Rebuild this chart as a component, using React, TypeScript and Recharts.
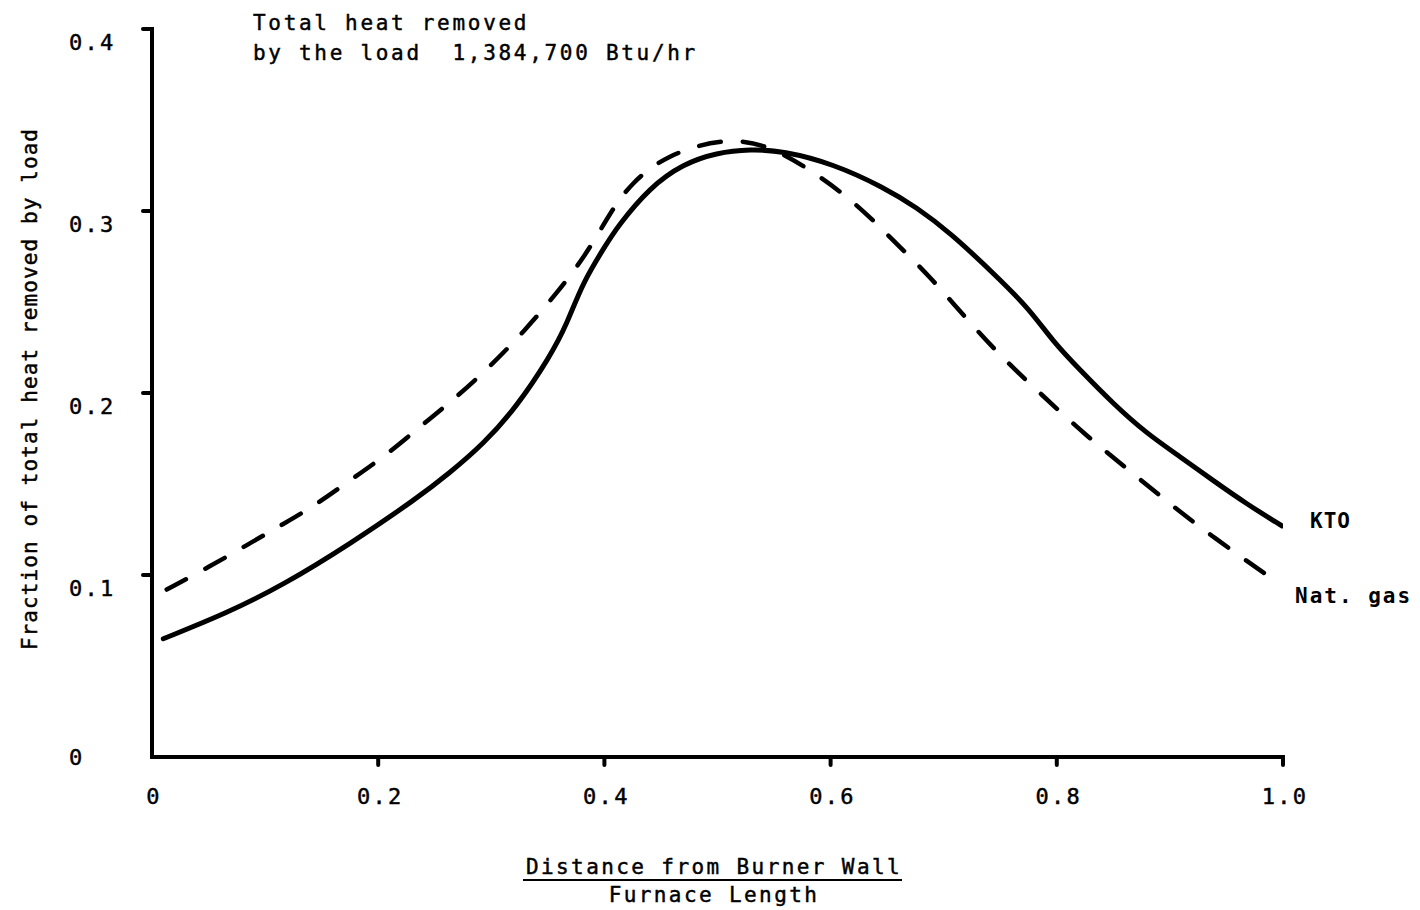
import React from 'react';
import { LineChart, Line, XAxis, YAxis, Label } from 'recharts';

// KTO (solid)
const ktoX = [0.010, 0.066, 0.116, 0.175, 0.234, 0.263, 0.293, 0.322, 0.352, 0.367, 0.381, 0.402, 0.411, 0.440, 0.470, 0.499, 0.529, 0.558, 0.602, 0.647, 0.676, 0.706, 0.747, 0.776, 0.797, 0.820, 0.850, 0.879, 0.909, 0.938, 0.968, 0.999];
const ktoY = [0.065, 0.079, 0.0945, 0.117, 0.142, 0.156, 0.172, 0.192, 0.220, 0.238, 0.261, 0.282, 0.291, 0.313, 0.326, 0.332, 0.334, 0.333, 0.326, 0.313, 0.302, 0.288, 0.264, 0.246, 0.228, 0.213, 0.194, 0.178, 0.165, 0.152, 0.139, 0.127];

// Natural gas (dashed)
const gasX = [0.013, 0.051, 0.084, 0.116, 0.146, 0.175, 0.2075, 0.238, 0.266, 0.299, 0.330, 0.356, 0.383, 0.405, 0.423, 0.455, 0.505, 0.543, 0.585, 0.623, 0.655, 0.688, 0.721, 0.754, 0.785, 0.825, 0.865, 0.903, 0.938, 0.975, 0.987];
const gasY = [0.092, 0.1046, 0.1165, 0.128, 0.139, 0.152, 0.166, 0.182, 0.196, 0.2145, 0.2346, 0.2535, 0.275, 0.299, 0.315, 0.331, 0.340, 0.337, 0.3216, 0.304, 0.284, 0.264, 0.240, 0.218, 0.200, 0.177, 0.157, 0.1375, 0.121, 0.1046, 0.0995];

const xTicks = [0, 0.2, 0.4, 0.6, 0.8, 1.0];
const xTickLabels = ['0', '0.2', '0.4', '0.6', '0.8', '1.0'];
const yTicks = [0, 0.1, 0.2, 0.3, 0.4];
const yTickLabels = ['0', '0.1', '0.2', '0.3', '0.4'];

const seriesNames = ['KTO', 'Nat. gas'];
const titleLines = ['Total heat removed', 'by the load  1,384,700 Btu/hr'];
const xLabelLines = ['Distance from Burner Wall', 'Furnace Length'];
const yLabel = 'Fraction of total heat removed by load';

const ktoData = ktoX.map((x, i) => ({ x, y: ktoY[i] }));
const gasData = gasX.map((x, i) => ({ x, y: gasY[i] }));

const FONT = '"DejaVu Sans Mono", "Liberation Mono", monospace';
const INK = { fill: '#000', stroke: '#000', strokeWidth: 0.45 };

const XTick = (props: any) => {
  const { x, y, payload } = props;
  const i = xTicks.indexOf(payload.value);
  return (
    <g>
      {payload.value > 0 && (
        <line x1={x} x2={x} y1={y} y2={y + 8} stroke="#000" strokeWidth={4} strokeLinecap="round" />
      )}
      <text x={x + 2} y={y + 47} textAnchor="middle" fontFamily={FONT} fontSize={22} letterSpacing={2.3} {...INK}>
        {i >= 0 ? xTickLabels[i] : payload.value}
      </text>
    </g>
  );
};

const YTick = (props: any) => {
  const { x, y, payload } = props;
  const i = yTicks.indexOf(payload.value);
  return (
    <g>
      {payload.value > 0 && (
        <line x1={x - 9} x2={x} y1={y} y2={y} stroke="#000" strokeWidth={4} strokeLinecap="round" />
      )}
      <text x={x - 83} y={payload.value > 0 ? y + 21 : y + 8} textAnchor="start" fontFamily={FONT} fontSize={22} letterSpacing={2.3} {...INK}>
        {i >= 0 ? yTickLabels[i] : payload.value}
      </text>
    </g>
  );
};

const XLabel = (props: any) => {
  const vb = props.viewBox || {};
  const cx = 714;
  const top = (vb.y || 757);
  return (
    <g>
      <text x={cx} y={top + 117} textAnchor="middle" fontFamily={FONT} fontSize={21} letterSpacing={2.4} {...INK}>
        {xLabelLines[0]}
      </text>
      <line x1={523} x2={902} y1={top + 123} y2={top + 123} stroke="#000" strokeWidth={2} />
      <text x={cx} y={top + 145} textAnchor="middle" fontFamily={FONT} fontSize={21} letterSpacing={2.4} {...INK}>
        {xLabelLines[1]}
      </text>
    </g>
  );
};

export default function App() {
  return (
    <div style={{ position: 'absolute', left: 0, top: 0, width: 1420, height: 910, background: '#fff' }}>
      <LineChart width={1420} height={910} margin={{ top: 29, right: 137, bottom: 93, left: 52 }}>
        <XAxis
          type="number"
          dataKey="x"
          domain={[0, 1]}
          ticks={xTicks}
          tickSize={0}
          tickMargin={0}
          tickLine={false}
          height={60}
          axisLine={{ stroke: '#000', strokeWidth: 4, strokeLinecap: 'square' }}
          tick={<XTick />}
          allowDataOverflow
        >
          <Label content={<XLabel />} />
        </XAxis>
        <YAxis
          type="number"
          dataKey="y"
          domain={[0, 0.4]}
          ticks={yTicks}
          tickSize={0}
          tickMargin={0}
          tickLine={false}
          width={100}
          axisLine={{ stroke: '#000', strokeWidth: 4, strokeLinecap: 'square' }}
          tick={<YTick />}
          allowDataOverflow
        >
          <Label
            value={yLabel}
            content={() => (
              <text
                x={30}
                y={389}
                transform="rotate(-90 30 389)"
                textAnchor="middle"
                dominantBaseline="central"
                fontFamily={FONT}
                fontSize={21}
                letterSpacing={1.1}
                {...INK}
              >
                {yLabel}
              </text>
            )}
          />
        </YAxis>
        <Line
          data={ktoData}
          dataKey="y"
          name={seriesNames[0]}
          type="basis"
          stroke="#000"
          strokeWidth={5}
          strokeLinecap="round"
          dot={false}
          activeDot={false}
          isAnimationActive={false}
        />
        <Line
          data={gasData}
          dataKey="y"
          name={seriesNames[1]}
          type="basis"
          stroke="#000"
          strokeWidth={4.5}
          strokeLinecap="round"
          strokeDasharray="22 22"
          dot={false}
          activeDot={false}
          isAnimationActive={false}
        />
      </LineChart>
      <svg width={1420} height={910} style={{ position: 'absolute', left: 0, top: 0, pointerEvents: 'none' }}>
        <text x={253} y={30} fontFamily={FONT} fontSize={21} letterSpacing={2.7} {...INK}>{titleLines[0]}</text>
        <text x={253} y={60} fontFamily={FONT} fontSize={21} letterSpacing={2.7} {...INK} style={{ whiteSpace: 'pre' }}>{titleLines[1]}</text>
        <text x={1310} y={528} fontFamily={FONT} fontSize={21} fontWeight="bold" letterSpacing={1} fill="#000">{seriesNames[0]}</text>
        <text x={1295} y={603} fontFamily={FONT} fontSize={21} fontWeight="bold" letterSpacing={2} fill="#000" style={{ whiteSpace: 'pre' }}>{seriesNames[1]}</text>
      </svg>
    </div>
  );
}
